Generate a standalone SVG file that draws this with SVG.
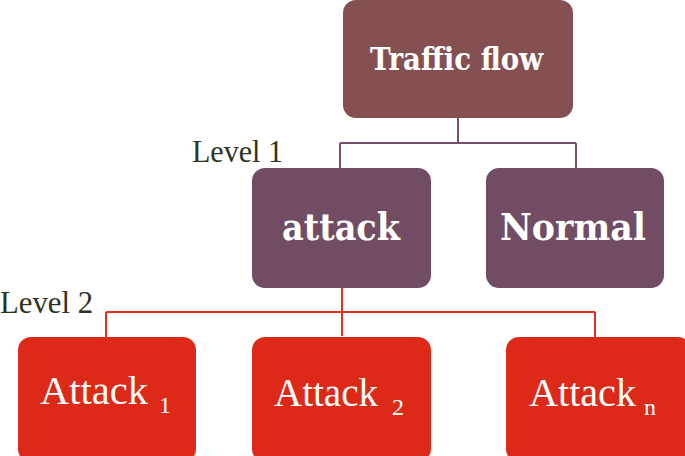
<svg xmlns="http://www.w3.org/2000/svg" width="685" height="456" viewBox="0 0 685 456">
<style>
.top{fill:#845051}
.l1{fill:#714C62}
.l2{fill:#DD2A18}
.slab{font-family:"DejaVu Serif",serif;font-weight:bold;fill:#fff}
.ser{font-family:"Liberation Serif","Times New Roman",serif;fill:#fff}
.lvl{font-family:"Liberation Serif","Times New Roman",serif;fill:#2E3322;font-size:32px}
.c1{fill:none;stroke:#7A5068;stroke-width:2}
.c2{fill:none;stroke:#E0301E;stroke-width:2}
</style>
<rect width="685" height="456" fill="#fff"/>
<g id="connectors">
<path class="c1" d="M458 118V143M340 143H576M340 143V168M576 143V168"/>
<path class="c2" d="M342 288V336M106 312H595M106 312V337M595 312V337"/>
</g>
<text class="lvl" x="192" y="162" textLength="91" lengthAdjust="spacingAndGlyphs">Level 1</text>
<text class="lvl" x="0" y="313" textLength="93" lengthAdjust="spacingAndGlyphs">Level 2</text>
<g id="traffic">
<rect class="top" x="343" y="0" width="230" height="118" rx="13"/>
<text class="slab" x="370" y="70" font-size="32" textLength="173" lengthAdjust="spacingAndGlyphs">Traffic flow</text>
</g>
<g id="attack">
<rect class="l1" x="252" y="168" width="179" height="120" rx="13"/>
<text class="slab" x="282" y="240" font-size="38" textLength="118" lengthAdjust="spacingAndGlyphs">attack</text>
</g>
<g id="normal">
<rect class="l1" x="486" y="168" width="178" height="120" rx="13"/>
<text class="slab" x="500" y="240" font-size="38" textLength="146" lengthAdjust="spacingAndGlyphs">Normal</text>
</g>
<g id="attack1">
<rect class="l2" x="18" y="337" width="178" height="125" rx="13"/>
<text class="ser" x="40" y="404" font-size="40" textLength="108" lengthAdjust="spacingAndGlyphs">Attack</text>
<text class="ser" x="159" y="413" font-size="24">1</text>
</g>
<g id="attack2">
<rect class="l2" x="252" y="337" width="179" height="125" rx="13"/>
<text class="ser" x="274" y="406" font-size="40" textLength="104" lengthAdjust="spacingAndGlyphs">Attack</text>
<text class="ser" x="392" y="415" font-size="24">2</text>
</g>
<g id="attackn">
<rect class="l2" x="506" y="337" width="185" height="125" rx="13"/>
<text class="ser" x="529" y="406" font-size="40" textLength="107" lengthAdjust="spacingAndGlyphs">Attack</text>
<text class="ser" x="644" y="415" font-size="24">n</text>
</g>
</svg>
